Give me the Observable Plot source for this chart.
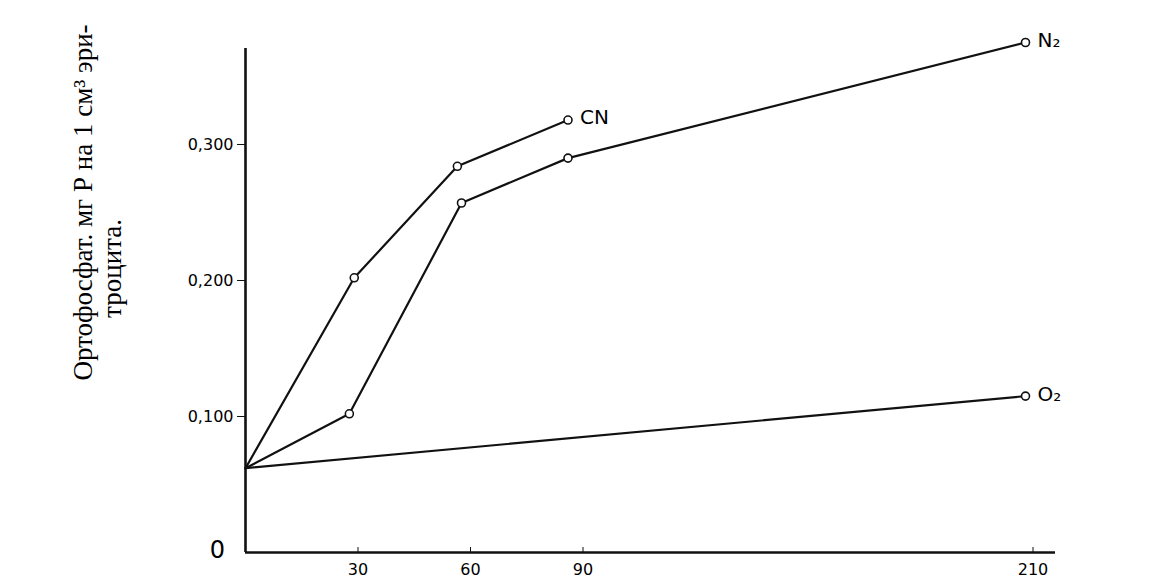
<!DOCTYPE html>
<html>
<head>
<meta charset="utf-8">
<script src="https://cdn.jsdelivr.net/npm/d3@7"></script>
<script src="https://cdn.jsdelivr.net/npm/@observablehq/plot@0.6"></script>
<style>
  html, body { margin: 0; padding: 0; background: #fff; }
  #chart { width: 1150px; height: 580px; overflow: hidden; }
</style>
</head>
<body>
<div id="chart"></div>
<script>
// Time, minutes
const xTicks = [30, 60, 90, 210];
const yTicks = [0.1, 0.2, 0.3];

// CN series
const cnX = [0, 29, 56.5, 86];
const cnY = [0.062, 0.202, 0.284, 0.318];
// N2 series
const n2X = [0, 27.7, 57.6, 86, 208];
const n2Y = [0.062, 0.102, 0.257, 0.290, 0.375];
// O2 series
const o2X = [0, 208];
const o2Y = [0.062, 0.115];

const seriesNames = ["CN", "N₂", "O₂"];
const yLabel1 = "Ортофосфат. мг Р на 1 см³ эри-";
const yLabel2 = "троцита.";

const toRows = (name, xs, ys) => xs.map((x, i) => ({series: name, x, y: ys[i]}));
const cn = toRows(seriesNames[0], cnX, cnY);
const n2 = toRows(seriesNames[1], n2X, n2Y);
const o2 = toRows(seriesNames[2], o2X, o2Y);
const all = [...cn, ...n2, ...o2];
const ends = [cn[cn.length - 1], n2[n2.length - 1], o2[o2.length - 1]];
const pointsRows = [...cn.slice(1), ...n2.slice(1), ...o2.slice(1)];

const hand = "'DejaVu Sans', sans-serif";
const serif = "'Liberation Serif', 'DejaVu Serif', serif";

const chart = Plot.plot({
  width: 1150,
  height: 580,
  marginLeft: 245,
  marginRight: 95,
  marginTop: 48,
  marginBottom: 28,
  style: {background: "#fff", color: "#000"},
  x: {domain: [0, 216]},
  y: {domain: [0, 0.3706]},
  marks: [
    Plot.ruleX([0], {stroke: "#111", strokeWidth: 2.6}),
    Plot.ruleY([0], {stroke: "#111", strokeWidth: 2.6}),
    Plot.axisY({
      ticks: yTicks,
      tickFormat: d => d.toFixed(3).replace(".", ","),
      tickSize: 8,
      tickPadding: 4,
      fontSize: 16,
      fontFamily: hand,
      stroke: "#111",
      label: null
    }),
    Plot.axisX({
      ticks: xTicks,
      tickFormat: d => String(d),
      tickSize: -5,
      tickPadding: 16,
      fontSize: 16,
      fontFamily: hand,
      stroke: "#111",
      label: null
    }),
    Plot.text(["0"], {x: 0, y: 0, dx: -28, dy: -2, fontSize: 24, fontFamily: hand}),
    Plot.line(all, {x: "x", y: "y", z: "series", stroke: "#111", strokeWidth: 2.2}),
    Plot.dot(pointsRows, {x: "x", y: "y", r: 4, fill: "#fff", stroke: "#111", strokeWidth: 1.6}),
    Plot.text(ends, {x: "x", y: "y", text: "series", textAnchor: "start", dx: 12, dy: -2, fontSize: 20, fontFamily: hand}),
    Plot.text([yLabel1], {frameAnchor: "left", textAnchor: "middle", dx: -162, dy: -98, rotate: -90, fontSize: 27, fontFamily: serif}),
    Plot.text([yLabel2], {frameAnchor: "left", textAnchor: "middle", dx: -133, dy: -32, rotate: -90, fontSize: 27, fontFamily: serif})
  ]
});
document.getElementById("chart").appendChild(chart);
</script>
</body>
</html>
